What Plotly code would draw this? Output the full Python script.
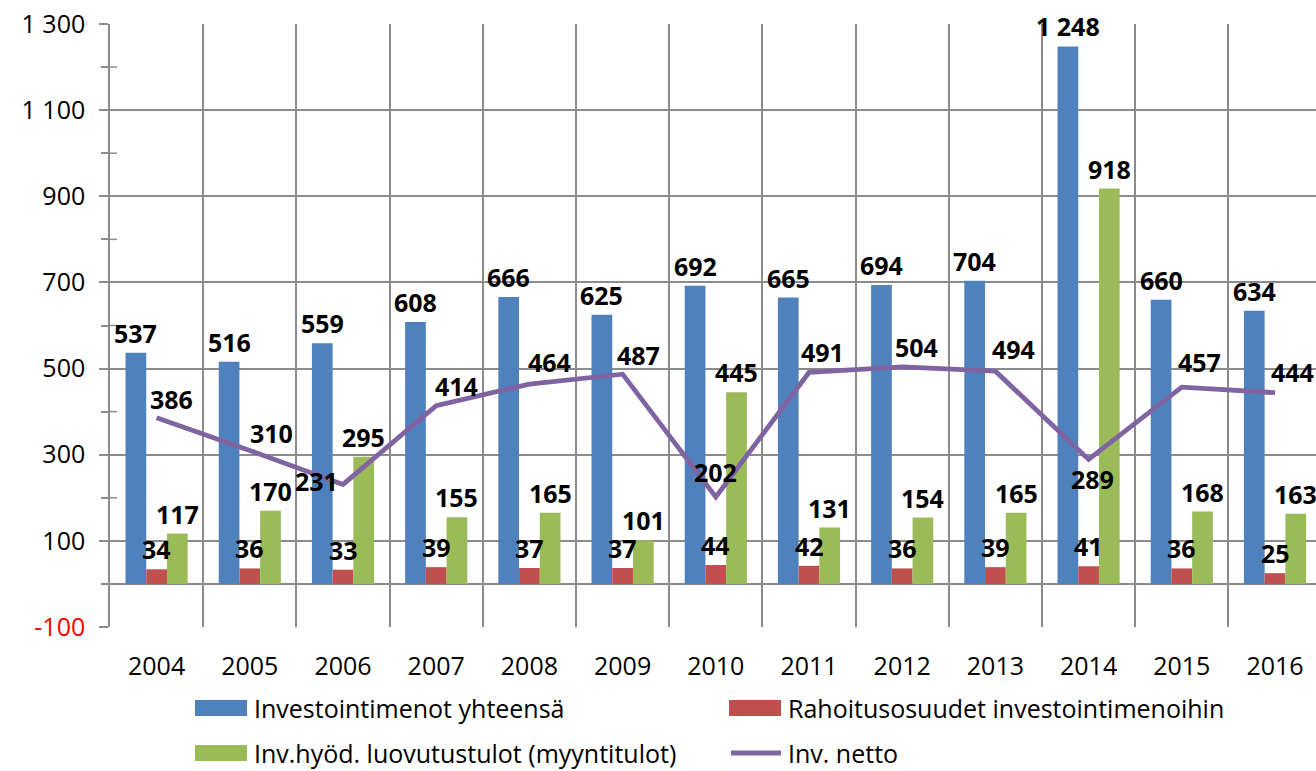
import plotly.graph_objects as go

# ---------------- data ----------------
years = [str(y) for y in range(2004, 2017)]
investointimenot = [537, 516, 559, 608, 666, 625, 692, 665, 694, 704, 1248, 660, 634]
rahoitusosuudet = [34, 36, 33, 39, 37, 37, 44, 42, 36, 39, 41, 36, 25]
luovutustulot = [117, 170, 295, 155, 165, 101, 445, 131, 154, 165, 918, 168, 163]
netto = [386, 310, 231, 414, 464, 487, 202, 491, 504, 494, 289, 457, 444]
y_major = [-100, 100, 300, 500, 700, 900, 1100, 1300]
y_minor = [0, 200, 400, 600, 800, 1000, 1200]

series_names = ["Investointimenot yhteensä", "Rahoitusosuudet investointimenoihin",
                "Inv.hyöd. luovutustulot (myyntitulot)", "Inv. netto"]

# ---------------- style ----------------
BLUE, RED, GREEN, PURPLE = "#4F81BD", "#C0504D", "#9BBB59", "#8064A2"
GRID = "#8C8C8C"
FONT = "Open Sans"
FS = 25
# label offsets (px) for the net line labels
net_shift = [(15, 19), (22, 17), (-27, 3), (20, 20), (20, 22), (16, 19), (0, 25),
             (13, 20), (14, 20), (18, 22), (4, -20), (18, 25), (17, 21)]
BAR_LABEL_DY = 20

W, H = 1316, 771
ML, MR, MT, MB = 110, 0, 24, 144
PW, PH = W - ML - MR, H - MT - MB
BARGAP = 0.333


def fmt(v):
    return f"{v:,}".replace(",", " ")


def px(xp):
    return (xp - ML) / PW


def py(yp):
    return (H - MB - yp) / PH


xs = list(range(len(years)))
cat_w = 93.2
x_max = PW / cat_w - 0.5
bar_w = (1 - BARGAP) / 3

fig = go.Figure()
bar_series = [(investointimenot, BLUE, series_names[0]),
              (rahoitusosuudet, RED, series_names[1]),
              (luovutustulot, GREEN, series_names[2])]
for vals, col, name in bar_series:
    fig.add_trace(go.Bar(
        x=xs, y=vals, name=name, marker=dict(color=col, line=dict(width=0)),
        showlegend=False))

fig.add_trace(go.Scatter(
    x=xs, y=netto, mode="lines", name=series_names[3],
    line=dict(color=PURPLE, width=4.8), showlegend=False))

annotations = []
for k, (vals, col, name) in enumerate(bar_series):
    off = (k - 1) * bar_w
    for i, v in enumerate(vals):
        annotations.append(dict(x=xs[i] + off, y=v, xref="x", yref="y", text=f"<b>{fmt(v)}</b>",
                                showarrow=False, yshift=BAR_LABEL_DY,
                                xanchor="center", yanchor="middle",
                                font=dict(family=FONT, size=FS, color="black")))

for i, v in enumerate(netto):
    dx, dy = net_shift[i]
    annotations.append(dict(x=xs[i], y=v, xref="x", yref="y", text=f"<b>{fmt(v)}</b>",
                            showarrow=False, xshift=dx, yshift=dy,
                            xanchor="center", yanchor="middle",
                            font=dict(family=FONT, size=FS, color="black")))

shapes = []
# inner half of minor ticks on y axis
for v in y_minor:
    shapes.append(dict(type="line", xref="paper", yref="y", x0=0, x1=7 / PW, y0=v, y1=v,
                       line=dict(color=GRID, width=1.5)))

# manual legend
legend_items = [
    (series_names[0], BLUE, "rect", 195, 708),
    (series_names[1], RED, "rect", 729, 708),
    (series_names[2], GREEN, "rect", 195, 753),
    (series_names[3], PURPLE, "line", 729, 753),
]
for name, col, kind, x0, yc in legend_items:
    if kind == "rect":
        shapes.append(dict(type="rect", xref="paper", yref="paper",
                           x0=px(x0), x1=px(x0 + 52), y0=py(yc - 8), y1=py(yc + 8),
                           fillcolor=col, line=dict(width=0)))
    else:
        shapes.append(dict(type="line", xref="paper", yref="paper",
                           x0=px(x0 + 2), x1=px(x0 + 52), y0=py(yc), y1=py(yc),
                           line=dict(color=col, width=5)))
    annotations.append(dict(x=px(x0 + 57), y=py(yc), xref="paper", yref="paper",
                            text=name, showarrow=False, xanchor="left", yanchor="middle",
                            font=dict(family=FONT, size=FS, color="black")))

fig.update_layout(
    width=W, height=H,
    margin=dict(l=ML, r=MR, t=MT, b=MB),
    paper_bgcolor="white", plot_bgcolor="white",
    barmode="group", bargap=BARGAP, bargroupgap=0,
    font=dict(family=FONT, size=FS, color="black"),
    annotations=annotations, shapes=shapes,
    xaxis=dict(range=[-0.5, x_max], tickmode="array", tickvals=xs, ticktext=years,
               showgrid=False, zeroline=False, showline=False, ticks="",
               ticklabelstandoff=22,
               tickfont=dict(family=FONT, size=FS, color="black"),
               minor=dict(tickmode="array", tickvals=[i + 0.5 for i in xs],
                          showgrid=True, gridcolor=GRID, gridwidth=1.5, ticks="")),
    yaxis=dict(range=[-100, 1300], tickmode="array", tickvals=y_major,
               ticktext=['<span style="color:#FF0000">' + fmt(v) + '</span>' if v < 0 else fmt(v)
                         for v in y_major],
               showgrid=True, gridcolor=GRID, gridwidth=1.5,
               zeroline=True, zerolinecolor=GRID, zerolinewidth=1.5,
               showline=True, linecolor=GRID, linewidth=1.5,
               ticks="outside", ticklen=9, tickcolor=GRID, tickwidth=1.5,
               ticklabelstandoff=9,
               tickfont=dict(family=FONT, size=FS, color="black"),
               minor=dict(tickmode="array", tickvals=y_minor, ticks="outside",
                          ticklen=7, tickcolor=GRID, tickwidth=1.5, showgrid=False)),
)

fig.write_html("out.html", config={"displayModeBar": False},
               post_script="document.body.style.margin='0';document.body.style.overflow='hidden';")
